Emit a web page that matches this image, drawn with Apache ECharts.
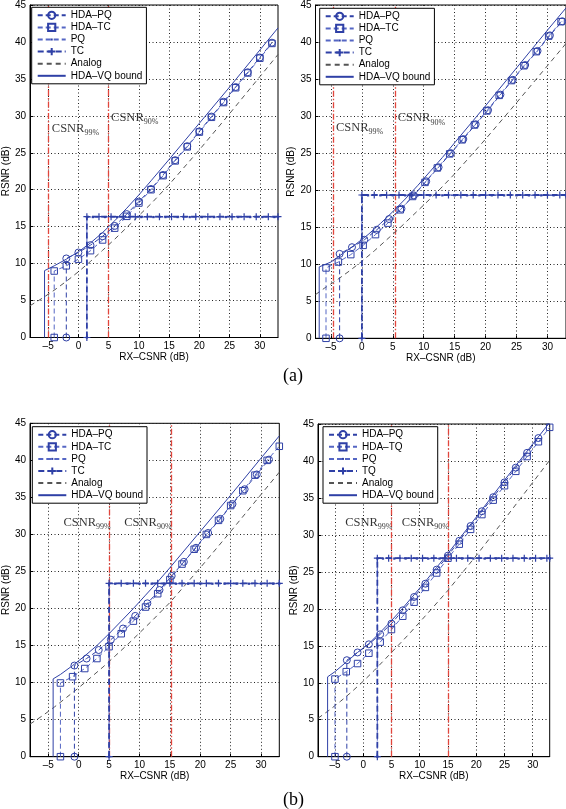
<!DOCTYPE html>
<html><head><meta charset="utf-8">
<script src="https://cdn.jsdelivr.net/npm/echarts@6/dist/echarts.min.js"></script>
<style>html,body{margin:0;padding:0;background:#fff}#c{width:566px;height:809px}</style>
</head><body><div id="c"></div>
<script>
// ---------- tick labels ----------
const xTicks = [-5, 0, 5, 10, 15, 20, 25, 30];
const yMin = 0, yMax = 45, yStep = 5;

// ---------- panel (a) left ----------
const a1HdaPQ = [[-2,0],[-2,10.7],[0,11.5],[2,12.5],[4,13.7],[6,15.1],[8,16.7],[10,18.4],[12,20.1],[14,22.0],[16,24.0],[18,25.9],[20,27.9],[22,29.9],[24,31.9],[26,33.9],[28,35.9],[30,37.9],[32,39.9]];
const a1HdaTC = [[-4,0],[-4,9.0],[-2,9.7],[0,10.6],[2,11.75],[4,13.2],[6,14.8],[8,16.4],[10,18.2],[12,20.0],[14,21.9],[16,23.9],[18,25.8],[20,27.8],[22,29.8],[24,31.8],[26,33.8],[28,35.8],[30,37.8],[32,39.8]];
const a1TC = [[1.4,0],[1.4,16.35],[3.4,16.35],[5.4,16.35],[7.4,16.35],[9.4,16.35],[11.4,16.35],[13.4,16.35],[15.4,16.35],[17.4,16.35],[19.4,16.35],[21.4,16.35],[23.4,16.35],[25.4,16.35],[27.4,16.35],[29.4,16.35],[31.4,16.35],[33,16.35]];
const a1PQ = [[1.4,0],[1.4,16.3],[2.4,16.3],[4.4,16.3],[6.4,16.3],[8.4,16.3],[10.4,16.3],[12.4,16.3],[14.4,16.3],[16.4,16.3],[18.4,16.3],[20.4,16.3],[22.4,16.3],[24.4,16.3],[26.4,16.3],[28.4,16.3],[30.4,16.3],[32.4,16.3],[33,16.3]];
const a1Analog = [[-8,4.3],[-6,5.3],[-4,6.4],[-2,7.6],[0,8.9],[2,10.3],[4,11.8],[6,13.3],[8,14.9],[10,16.5],[12,18.1],[15,20.7],[20,25.4],[25,30.3],[30,35.3],[33,38.3]];
const a1Bound = [[-5.6,0],[-5.6,9.05],[-4,9.7],[-2,10.6],[0,11.6],[2,12.8],[4,14.2],[6,15.8],[8,17.5],[10,19.3],[12,21.2],[15,24.1],[20,29.0],[25,33.9],[30,38.9],[33,41.9]];
const a1Csnr = [-5, 5];
const a1Notes = [[-4.4, 28.1, '99%'], [5.4, 29.6, '90%']];

// ---------- panel (a) right ----------
const a2HdaPQ = [[-3.6,0],[-3.6,11.4],[-1.6,12.3],[0.4,13.3],[2.4,14.65],[4.4,16.1],[6.4,17.5],[8.4,19.3],[10.4,21.2],[12.4,23.1],[14.4,25.0],[16.4,26.9],[18.4,28.9],[20.4,30.8],[22.4,32.9],[24.4,34.9],[26.4,36.9],[28.4,38.8],[30.4,40.9],[32.4,42.8]];
const a2HdaTC = [[-5.8,0],[-5.8,9.5],[-3.8,10.3],[-1.8,11.3],[0.2,12.55],[2.2,14.0],[4.2,15.55],[6.2,17.35],[8.2,19.15],[10.2,21.05],[12.2,23.0],[14.2,24.9],[16.2,26.8],[18.2,28.8],[20.2,30.7],[22.2,32.8],[24.2,34.8],[26.2,36.8],[28.2,38.7],[30.2,40.8],[32.2,42.75]];
const a2TC = [[0,0],[0,19.35],[2,19.35],[4,19.35],[6,19.35],[8,19.35],[10,19.35],[12,19.35],[14,19.35],[16,19.35],[18,19.35],[20,19.35],[22,19.35],[24,19.35],[26,19.35],[28,19.35],[30,19.35],[32,19.35],[33,19.35]];
const a2PQ = [[0,0],[0,19.3],[1,19.3],[3,19.3],[5,19.3],[7,19.3],[9,19.3],[11,19.3],[13,19.3],[15,19.3],[17,19.3],[19,19.3],[21,19.3],[23,19.3],[25,19.3],[27,19.3],[29,19.3],[31,19.3],[33,19.3]];
const a2Analog = [[-7.5,5.9],[-6,6.8],[-4,7.9],[-2,9.1],[0,10.4],[2,11.8],[4,13.3],[6,14.8],[8,16.4],[10,18.0],[12,19.6],[15,22.2],[20,26.9],[25,31.8],[30,36.8],[33,39.8]];
const a2Bound = [[-6.9,0],[-6.9,9.64],[-5,10.3],[-3,11.5],[-1,12.7],[1,14.0],[3,15.5],[5,17.1],[7,18.8],[9,20.6],[11,22.5],[13,24.4],[15,26.4],[20,31.4],[25,36.5],[30,41.6],[33,44.6]];
const a2Csnr = [-4.7, 5.4];
const a2Notes = [[-4.2, 28.3, '99%'], [5.8, 29.6, '90%']];

// ---------- panel (b) left ----------
const b1HdaPQ = [[-0.7,0],[-0.7,12.3],[1.3,13.25],[3.3,14.4],[5.3,15.8],[7.3,17.3],[9.3,19.0],[11.3,20.7],[13.3,22.5],[15.3,24.4],[17.3,26.3],[19.3,28.2],[21.3,30.2],[23.3,32.1],[25.3,34.1],[27.3,36.1],[29.3,38.1],[31.3,40.1]];
const b1HdaTC = [[-3,0],[-3,9.95],[-1,10.8],[1,11.9],[3,13.25],[5,14.85],[7,16.6],[9,18.3],[11,20.2],[13,22.0],[15,23.9],[17,26.0],[19,28.0],[21,30.0],[23,31.9],[25,33.9],[27,35.9],[29,38.0],[31,40.0],[33,41.9]];
const b1TC = [[5,0],[5,23.4],[7,23.4],[9,23.4],[11,23.4],[13,23.4],[15,23.4],[17,23.4],[19,23.4],[21,23.4],[23,23.4],[25,23.4],[27,23.4],[29,23.4],[31,23.4],[33,23.4]];
const b1PQ = [[5,0],[5,23.35],[6,23.35],[8,23.35],[10,23.35],[12,23.35],[14,23.35],[16,23.35],[18,23.35],[20,23.35],[22,23.35],[24,23.35],[26,23.35],[28,23.35],[30,23.35],[32,23.35],[33,23.35]];
const b1Analog = [[-8,4.4],[-6,5.5],[-4,6.7],[-2,8.0],[0,9.3],[2,10.7],[4,12.1],[6,13.6],[8,15.1],[10,16.7],[12,18.3],[15,20.8],[20,25.5],[25,30.4],[30,35.4],[33,38.4]];
const b1Bound = [[-4.2,0],[-4.2,10.5],[-3,11.1],[-1,12.3],[1,13.6],[3,15.0],[5,16.6],[7,18.3],[9,20.0],[11,21.8],[13,23.6],[15,25.5],[20,30.4],[25,35.3],[30,40.3],[33,43.3]];
const b1Csnr = [5, 15.2];
const b1Notes = [[-2.5, 31.5, '99%'], [7.5, 31.5, '90%']];

// ---------- panel (b) right ----------
const b2HdaPQ = [[-2.9,0],[-2.9,13.05],[-1,14.1],[1,15.2],[3,16.55],[5,18.0],[7,19.8],[9,21.6],[11,23.4],[13,25.3],[15,27.2],[17,29.2],[19,31.2],[21,33.2],[23,35.1],[25,37.1],[27,39.1],[29,41.1],[31,43.1]];
const b2HdaTQ = [[-5,0],[-5,10.5],[-3,11.5],[-1,12.6],[1,14.0],[3,15.5],[5,17.2],[7,19.0],[9,20.9],[11,22.9],[13,24.85],[15,26.85],[17,28.75],[19,30.75],[21,32.75],[23,34.7],[25,36.65],[27,38.6],[29,40.6],[31,42.6],[33,44.55]];
const b2TQ = [[2.5,0],[2.5,26.85],[4.5,26.85],[6.5,26.85],[8.5,26.85],[10.5,26.85],[12.5,26.85],[14.5,26.85],[16.5,26.85],[18.5,26.85],[20.5,26.85],[22.5,26.85],[24.5,26.85],[26.5,26.85],[28.5,26.85],[30.5,26.85],[32.5,26.85],[33,26.85]];
const b2PQ = [[2.5,0],[2.5,26.8],[3.5,26.8],[5.5,26.8],[7.5,26.8],[9.5,26.8],[11.5,26.8],[13.5,26.8],[15.5,26.8],[17.5,26.8],[19.5,26.8],[21.5,26.8],[23.5,26.8],[25.5,26.8],[27.5,26.8],[29.5,26.8],[31.5,26.8],[33,26.8]];
const b2Analog = [[-8,5.2],[-6,6.3],[-4,7.5],[-2,8.8],[0,10.2],[2,11.7],[4,13.3],[6,14.9],[8,16.5],[10,18.2],[12,19.9],[15,22.5],[20,27.2],[25,32.1],[30,37.1],[33,40.1]];
const b2Bound = [[-6.3,0],[-6.3,10.8],[-5,11.5],[-3,12.8],[-1,14.1],[1,15.3],[3,16.8],[5,18.4],[7,20.1],[9,21.9],[11,23.7],[13,25.6],[15,27.5],[20,32.4],[25,37.4],[30,42.3],[33,45.2]];
const b2Csnr = [5, 15.1];
const b2Notes = [[-3.2, 31.5, '99%'], [6.8, 31.5, '90%']];

// ---------- layout / style ----------
const FONT = 'Liberation Sans';
const SERIF = 'Liberation Serif';
const C_DARK = '#2f40a6';
const C_MID = '#5566c4';
const C_RED = '#e2463c';
const PLUS = 'path://M0,5L10,5M5,0L5,10';
const DOT = 'path://M0,0M10,10M3.6,3.6L6.4,3.6L6.4,6.4L3.6,6.4Z';
const CLEAR = 'rgba(0,0,0,0)';

const panels = [
  {grid:{left:28, top:4, width:250, height:333.5}, xmin:-8, legendPos:{left:31.7, top:7.3},
   names:['HDA–PQ','HDA–TC','PQ','TC'], pq:a1HdaPQ, tc:a1HdaTC, dq:a1PQ, dt:a1TC, an:a1Analog, bd:a1Bound, csnr:a1Csnr, notes:a1Notes},
  {grid:{left:315.5, top:4, width:250.5, height:334.3}, xmin:-7.5, legendPos:{left:319.7, top:8.3},
   names:['HDA–PQ','HDA–TC','PQ','TC'], pq:a2HdaPQ, tc:a2HdaTC, dq:a2PQ, dt:a2TC, an:a2Analog, bd:a2Bound, csnr:a2Csnr, notes:a2Notes},
  {grid:{left:28, top:423.3, width:251.3, height:333.4}, xmin:-8, legendPos:{left:32.3, top:426.7},
   names:['HDA–PQ','HDA–TC','PQ','TC'], pq:b1HdaPQ, tc:b1HdaTC, dq:b1PQ, dt:b1TC, an:b1Analog, bd:b1Bound, csnr:b1Csnr, notes:b1Notes},
  {grid:{left:318, top:424, width:231.7, height:332.7}, xmin:-8, legendPos:{left:323, top:426.7},
   names:['HDA–PQ','HDA–TQ','PQ','TQ'], pq:b2HdaPQ, tc:b2HdaTQ, dq:b2PQ, dt:b2TQ, an:b2Analog, bd:b2Bound, csnr:b2Csnr, notes:b2Notes}
];

const fmtX = v => v < 0 ? '–' + Math.abs(v) : String(v);

const grids = [], xAxes = [], yAxes = [], series = [], legends = [];
panels.forEach((p, i) => {
  grids.push(Object.assign({show:true, borderColor:'#000', borderWidth:1, backgroundColor:'transparent'}, p.grid));
  xAxes.push({type:'value', gridIndex:i, min:p.xmin, max:33,
    name:'RX–CSNR (dB)', nameLocation:'middle', nameGap:15,
    nameTextStyle:{fontFamily:FONT, fontSize:10, color:'#000'},
    axisLine:{onZero:false, lineStyle:{color:'#000', width:1}},
    axisTick:{customValues:xTicks, inside:true, length:3, lineStyle:{color:'#000'}},
    axisLabel:{customValues:xTicks, formatter:fmtX, margin:4, fontFamily:FONT, fontSize:10, color:'#000'},
    splitLine:{show:true, lineStyle:{type:[1,2.5], color:'#222', width:1}}});
  yAxes.push({type:'value', gridIndex:i, min:yMin, max:yMax, interval:yStep,
    name:'RSNR (dB)', nameLocation:'middle', nameGap:18,
    nameTextStyle:{fontFamily:FONT, fontSize:10, color:'#000'},
    axisLine:{onZero:false, lineStyle:{color:'#000', width:1}},
    axisTick:{inside:true, length:3, lineStyle:{color:'#000'}},
    axisLabel:{margin:4, fontFamily:FONT, fontSize:10, color:'#000'},
    splitLine:{show:true, lineStyle:{type:[1,2.5], color:'#222', width:1}}});
  const base = {type:'line', xAxisIndex:i, yAxisIndex:i, animation:false, silent:true};
  series.push(Object.assign({}, base, {name:'Analog', data:p.an, symbol:'none',
    lineStyle:{color:'#555', width:1, type:[5,4]}, itemStyle:{color:CLEAR, borderWidth:0}, z:2}));
  series.push(Object.assign({}, base, {name:'HDA–VQ bound', data:p.bd, symbol:'none',
    lineStyle:{color:C_DARK, width:1, type:'solid'}, itemStyle:{color:CLEAR, borderWidth:0}, z:3,
    markLine:{silent:true, z:1, symbol:['none','none'], label:{show:false}, animation:false,
      lineStyle:{color:C_RED, width:1.3, type:[6,2,1.5,2]},
      data:p.csnr.map(v => ({xAxis:v}))}}));
  series.push(Object.assign({}, base, {name:p.names[0], data:p.pq, symbol:'circle', symbolSize:7,
    lineStyle:{color:C_DARK, width:1, type:[5,3]},
    itemStyle:{color:CLEAR, borderColor:C_DARK, borderWidth:1}, z:4}));
  series.push(Object.assign({}, base, {name:p.names[1], data:p.tc, symbol:'rect', symbolSize:6.5,
    lineStyle:{color:C_MID, width:1, type:[5,3]},
    itemStyle:{color:CLEAR, borderColor:C_DARK, borderWidth:1}, z:4}));
  series.push(Object.assign({}, base, {name:p.names[2], data:p.dq, symbol:DOT, symbolSize:8,
    lineStyle:{color:C_MID, width:1, type:[5,3]},
    itemStyle:{color:C_DARK, borderWidth:0}, z:5}));
  series.push(Object.assign({}, base, {name:p.names[3], data:p.dt, symbol:PLUS, symbolSize:7,
    lineStyle:{color:C_DARK, width:1.8, type:[6,3]},
    itemStyle:{color:CLEAR, borderColor:C_DARK, borderWidth:1.2}, z:5}));
  series.push({type:'scatter', name:'notes'+i, xAxisIndex:i, yAxisIndex:i, silent:true, animation:false,
    symbolSize:0, data:p.notes, z:6,
    label:{show:true, position:'right', distance:0,
      formatter: q => '{m|CSNR}{s|' + q.data[2] + '}',
      rich:{m:{fontFamily:SERIF, fontSize:12.5, color:'#000', lineHeight:15, verticalAlign:'top'},
            s:{fontFamily:SERIF, fontSize:8, color:'#000', lineHeight:15, verticalAlign:'bottom'}}}});
  legends.push({left:p.legendPos.left, top:p.legendPos.top, orient:'vertical', selectedMode:false, z:20,
    data:[p.names[0], p.names[1], p.names[2], p.names[3], 'Analog', 'HDA–VQ bound'],
    itemWidth:28, itemHeight:9, itemGap:0.1, padding:[2,4,2,5],
    borderColor:'#000', borderWidth:1, backgroundColor:'#fff',
    textStyle:{fontFamily:FONT, fontSize:10, lineHeight:12, color:'#000'}});
});

const chart = echarts.init(document.getElementById('c'), null, {renderer:'canvas'});
chart.setOption({
  animation:false,
  backgroundColor:'#fff',
  grid:grids, xAxis:xAxes, yAxis:yAxes, series:series, legend:legends,
  graphic:[
    {type:'text', left:283, top:367, style:{text:'(a)', fontFamily:SERIF, fontSize:18, fill:'#000'}},
    {type:'text', left:283, top:791, style:{text:'(b)', fontFamily:SERIF, fontSize:18, fill:'#000'}}
  ]
});
</script></body></html>
